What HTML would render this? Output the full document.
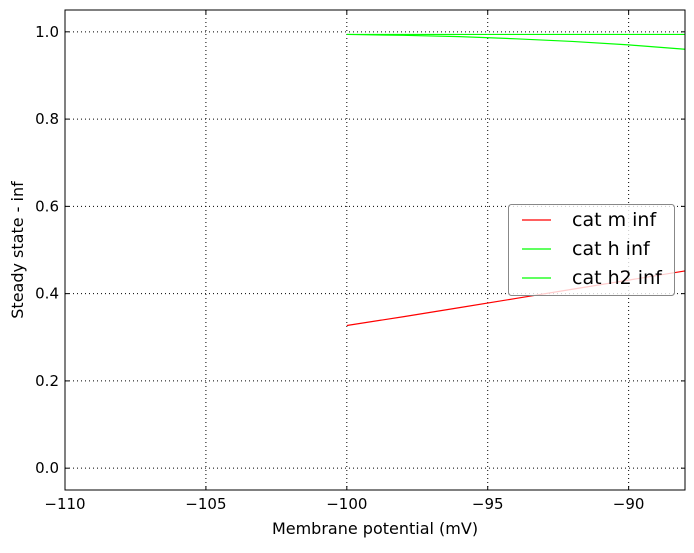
<!DOCTYPE html>
<html><head><meta charset="utf-8"><style>
body{margin:0;background:#fff;font-family:"Liberation Sans","DejaVu Sans",sans-serif}
svg text{font-family:"DejaVu Sans","Liberation Sans",sans-serif}
</style></head><body>
<svg id="chart" width="694" height="548" xmlns="http://www.w3.org/2000/svg"></svg>
<script>
const xs = [-100, -98, -96, -94, -92, -90, -88];
const mInf = [0.327, 0.347, 0.368, 0.389, 0.410, 0.431, 0.452];
const hInf = [0.994, 0.992, 0.989, 0.984, 0.978, 0.970, 0.960];
const h2Inf = [0.994, 0.994, 0.994, 0.994, 0.994, 0.994, 0.994];
const xTicks = [-110, -105, -100, -95, -90];
const yTicks = [0.0, 0.2, 0.4, 0.6, 0.8, 1.0];
const seriesNames = ["cat m inf", "cat h inf", "cat h2 inf"];

const L=65,R=685,T=10,B=490;
const xMin=-110,xMax=-88,yMin=-0.05,yMax=1.05;
const sx=v=>L+(v-xMin)/(xMax-xMin)*(R-L);
const sy=v=>B-(v-yMin)/(yMax-yMin)*(B-T);
const svg=document.getElementById('chart');
const NS='http://www.w3.org/2000/svg';
function mk(tag,attrs,parent){const e=document.createElementNS(NS,tag);for(const k in attrs)e.setAttribute(k,attrs[k]);(parent||svg).appendChild(e);return e;}

xTicks.forEach(v=>{
  const x=sx(v);
  const g=mk('line',{x1:x,x2:x,y1:T,y2:B,stroke:'#000','stroke-dasharray':'1,3','stroke-width':1});
  
  
  mk('line',{x1:x,x2:x,y1:B,y2:B-4,stroke:'#000'});
  mk('line',{x1:x,x2:x,y1:T,y2:T+4,stroke:'#000'});
  const t=mk('text',{x:x,y:B+19,'text-anchor':'middle','font-size':15});
  t.textContent=(v<0?'\u2212'+(-v):v);
  
  
});
yTicks.forEach(v=>{
  const y=sy(v);
  const g=mk('line',{x1:L,x2:R,y1:y,y2:y,stroke:'#000','stroke-dasharray':'1,3','stroke-width':1});
  
  
  mk('line',{x1:L,x2:L+4,y1:y,y2:y,stroke:'#000'});
  mk('line',{x1:R,x2:R-4,y1:y,y2:y,stroke:'#000'});
  const t=mk('text',{x:L-6,y:y+5,'text-anchor':'end','font-size':15});
  t.textContent=v.toFixed(1);
  
  
});
function line(vals,color,name){
  const p=mk('polyline',{points:xs.map((x,i)=>sx(x)+','+sy(vals[i])).join(' '),fill:'none',stroke:color,'stroke-width':1.2});
  
  
}
line(mInf,'#ff0000','cat-m-inf-line');
line(hInf,'#00ff00','cat-h-inf-line');
line(h2Inf,'#00ff00','cat-h2-inf-line');
const fr=mk('rect',{x:L,y:T,width:R-L,height:B-T,fill:'none',stroke:'#000','stroke-width':1});



const lg=mk('g',{});


mk('rect',{x:508.5,y:204.5,width:166,height:91,rx:3,fill:'#fff','fill-opacity':0.8,stroke:'#888'},lg);
const cols=['#ff0000','#00ff00','#00ff00'];
seriesNames.forEach((n,i)=>{
  const y=220+i*29;
  mk('line',{x1:522,x2:551,y1:y,y2:y,stroke:cols[i],'stroke-width':1.2},lg);
  const t=mk('text',{x:572,y:y+6,'font-size':19},lg);
  t.textContent=n;
  
  
});
const xt=mk('text',{x:(L+R)/2,y:534,'text-anchor':'middle','font-size':16});
xt.textContent='Membrane potential (mV)';


const yt=mk('text',{x:0,y:0,'text-anchor':'middle','font-size':16,transform:'translate(23,250) rotate(-90)'});
yt.textContent='Steady state - inf';


</script>
</body></html>
